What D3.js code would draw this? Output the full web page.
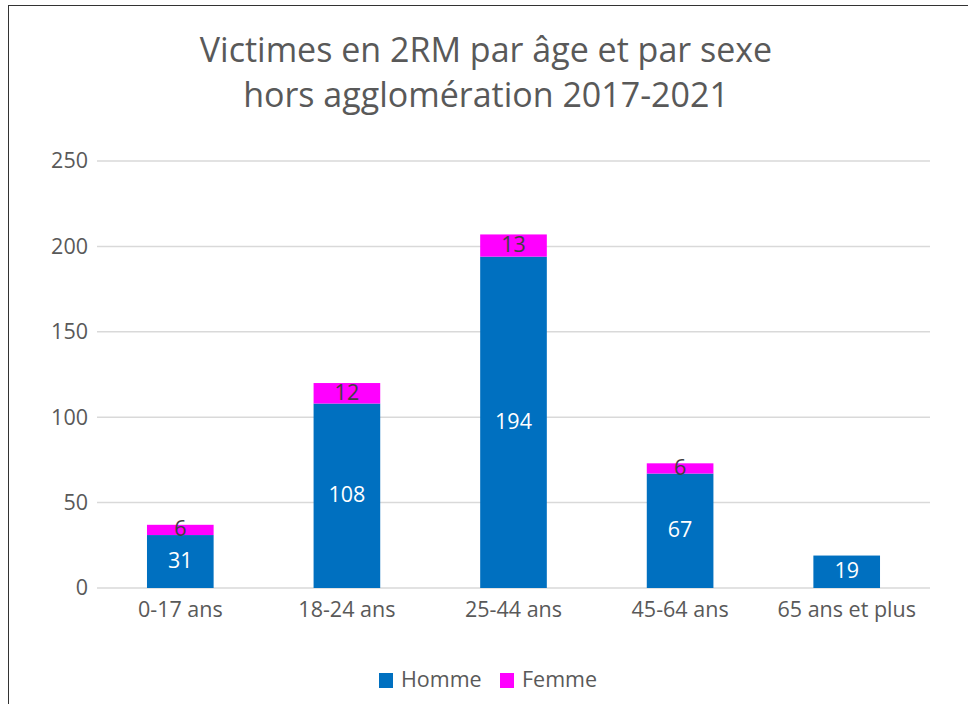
<!DOCTYPE html>
<html>
<head>
<meta charset="utf-8">
<script src="https://cdn.jsdelivr.net/npm/d3@7"></script>
<style>
  body { margin: 0; background: #fff; }
  text { font-family: "Open Sans", sans-serif; }
</style>
</head>
<body>
<div id="chart"></div>
<script>
const categories = ["0-17 ans", "18-24 ans", "25-44 ans", "45-64 ans", "65 ans et plus"];
const homme = [31, 108, 194, 67, 19];
const femme = [6, 12, 13, 6, 0];
const yTicks = [0, 50, 100, 150, 200, 250];
const titleLines = ["Victimes en 2RM par âge et par sexe", "hors agglomération 2017-2021"];

const width = 968, height = 704;
const margin = { top: 161, right: 38, bottom: 116, left: 97 };

const svg = d3.select("#chart")
  .append("svg")
  .attr("width", width)
  .attr("height", height);

// chart frame (right and bottom edges fall outside the picture)
svg.append("rect")
  .attr("x", 8.5).attr("y", 5.5)
  .attr("width", 990).attr("height", 720)
  .attr("fill", "none")
  .attr("stroke", "#333")
  .attr("stroke-width", 1);

const x = d3.scaleBand()
  .domain(categories)
  .range([margin.left, width - margin.right])
  .paddingInner(0.6)
  .paddingOuter(0.3);

const y = d3.scaleLinear()
  .domain([0, 250])
  .range([height - margin.bottom, margin.top]);

// gridlines
svg.append("g")
  .selectAll("line")
  .data(yTicks)
  .join("line")
  .attr("x1", margin.left)
  .attr("x2", width - margin.right)
  .attr("y1", d => y(d))
  .attr("y2", d => y(d))
  .attr("stroke", "#d9d9d9")
  .attr("stroke-width", 1.5);

// y axis labels
const yAxis = svg.append("g")
  .attr("transform", `translate(${margin.left - 9},0)`)
  .call(d3.axisLeft(y).tickValues(yTicks).tickSize(0).tickPadding(0));
yAxis.select(".domain").remove();
yAxis.selectAll("text")
  .attr("fill", "#595959")
  .style("font-size", "21.5px")
  .style("font-family", "'Open Sans', sans-serif");

// x axis labels
const xAxis = svg.append("g")
  .attr("transform", `translate(0,${y(0)})`)
  .call(d3.axisBottom(x).tickSize(0).tickPadding(14));
xAxis.select(".domain").remove();
xAxis.selectAll("text")
  .attr("fill", "#595959")
  .style("font-size", "21.5px")
  .style("font-family", "'Open Sans', sans-serif");

// stacked bars
const rows = categories.map((c, i) => ({ cat: c, homme: homme[i], femme: femme[i] }));
const series = d3.stack().keys(["homme", "femme"])(rows);
const colors = { homme: "#0070C0", femme: "#FF00FF" };

const layers = svg.append("g")
  .selectAll("g")
  .data(series)
  .join("g")
  .attr("fill", d => colors[d.key]);

layers.selectAll("rect")
  .data(d => d)
  .join("rect")
  .attr("x", d => x(d.data.cat))
  .attr("width", x.bandwidth())
  .attr("y", d => y(d[1]))
  .attr("height", d => y(d[0]) - y(d[1]));

// data labels
series.forEach(s => {
  svg.append("g")
    .selectAll("text")
    .data(s.filter(d => d[1] - d[0] > 0))
    .join("text")
    .attr("x", d => x(d.data.cat) + x.bandwidth() / 2)
    .attr("y", d => (y(d[0]) + y(d[1])) / 2 - 2)
    .attr("text-anchor", "middle")
    .attr("dominant-baseline", "central")
    .attr("fill", s.key === "homme" ? "#ffffff" : "#404040")
    .style("font-size", "21.5px")
    .text(d => d[1] - d[0]);
});

// title
svg.append("text")
  .attr("x", width / 2)
  .attr("text-anchor", "middle")
  .attr("fill", "#595959")
  .style("font-size", "34px")
  .selectAll("tspan")
  .data(titleLines)
  .join("tspan")
  .attr("x", width / 2 + 2)
  .attr("y", (d, i) => 62 + i * 45)
  .text(d => d);

// legend
const legendItems = [
  { key: "homme", label: "Homme", x: 379 },
  { key: "femme", label: "Femme", x: 500 }
];
const legend = svg.append("g")
  .selectAll("g")
  .data(legendItems)
  .join("g")
  .attr("transform", d => `translate(${d.x},673)`);
legend.append("rect")
  .attr("width", 14)
  .attr("height", 15)
  .attr("fill", d => colors[d.key]);
legend.append("text")
  .attr("x", 22)
  .attr("y", 14)
  .attr("fill", "#595959")
  .style("font-size", "21.5px")
  .text(d => d.label);
</script>
</body>
</html>
